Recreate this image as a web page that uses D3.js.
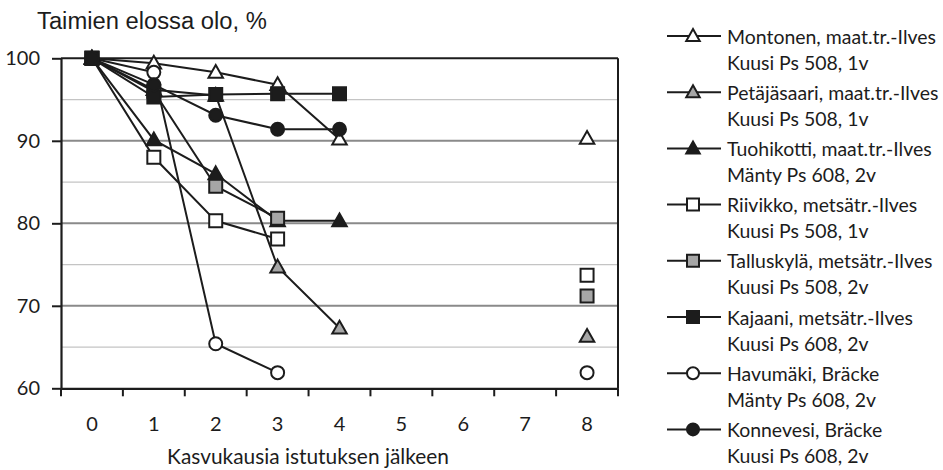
<!DOCTYPE html>
<html><head><meta charset="utf-8">
<script src="https://cdn.jsdelivr.net/npm/d3@7"></script>
<style>body{margin:0;background:#fff}</style>
</head><body><svg id="c" width="943" height="470"></svg>
<script>
// ---------- data ----------
const categories = ["0","1","2","3","4","5","6","7","8"];
const seriesNames = [
  "Montonen, maat.tr.-Ilves",
  "Petäjäsaari, maat.tr.-Ilves",
  "Tuohikotti, maat.tr.-Ilves",
  "Riivikko, metsätr.-Ilves",
  "Talluskylä, metsätr.-Ilves",
  "Kajaani, metsätr.-Ilves",
  "Havumäki, Bräcke",
  "Konnevesi, Bräcke"
];
const seriesSubtitles = [
  "Kuusi Ps 508, 1v",
  "Kuusi Ps 508, 1v",
  "Mänty Ps 608, 2v",
  "Kuusi Ps 508, 1v",
  "Kuusi Ps 508, 2v",
  "Kuusi Ps 608, 2v",
  "Mänty Ps 608, 2v",
  "Kuusi Ps 608, 2v"
];
const montonen    = [100, 99.4, 98.3, 96.8, 90.2, null, null, null, 90.3];
const petajasaari = [100, 96.2, 95.5, 74.7, 67.3, null, null, null, 66.3];
const tuohikotti  = [100, 90.1, 86.0, 80.3, 80.3, null, null, null, null];
const riivikko    = [100, 88.0, 80.3, 78.1, null, null, null, null, 73.7];
const talluskyla  = [100, 96.0, 84.5, 80.6, null, null, null, null, 71.2];
const kajaani     = [100, 95.3, 95.6, 95.7, 95.7, null, null, null, null];
const havumaki    = [100, 98.3, 65.4, 61.9, null, null, null, null, 61.9];
const konnevesi   = [100, 96.8, 93.1, 91.4, 91.4, null, null, null, null];
const seriesValues = [montonen, petajasaari, tuohikotti, riivikko, talluskyla, kajaani, havumaki, konnevesi];
const yTicks = [60, 70, 80, 90, 100];
const yMinorTicks = [65, 75, 85, 95];
const yTitle = "Taimien elossa olo, %";
const xTitle = "Kasvukausia istutuksen jälkeen";

// ---------- styles ----------
const INK = "#1c1c1c";
const seriesShapes = ["tri","tri","tri","sq","sq","sq","circ","circ"];
const seriesFills  = ["#fff","#a6a6a6",INK,"#fff","#a6a6a6",INK,"#fff",INK];

const svg = d3.select("#c");
const pLeft = 61, pRight = 618, pTop = 58.3, pBottom = 388.3;
const x = d3.scaleBand().domain(categories).range([pLeft, pRight]).padding(0);
const y = d3.scaleLinear().domain([60, 100]).range([pBottom, pTop]);

// font size that makes a text reach a target width
function fitSize(text, family, target) {
  const t = svg.append("text").attr("font-family", family).attr("font-size", 20).text(text);
  const w = t.node().getComputedTextLength();
  t.remove();
  return 20 * target / w;
}

// custom symbols
const triSym = { draw(ctx, size) { const w = size, h = size * 0.88;
  ctx.moveTo(0, -h * 0.58); ctx.lineTo(w / 2, h * 0.42); ctx.lineTo(-w / 2, h * 0.42); ctx.closePath(); } };
const sqSym = { draw(ctx, size) { const s = size / 2; ctx.rect(-s, -s, size, size); } };
const circSym = { draw(ctx, size) { const r = size / 2; ctx.moveTo(r, 0); ctx.arc(0, 0, r, 0, 2 * Math.PI); } };
const symMap = { tri: triSym, sq: sqSym, circ: circSym };
const markerSize = { tri: 14.5, sq: 13, circ: 13 };

// gridlines
svg.append("g").selectAll("line").data(yMinorTicks).join("line")
  .attr("x1", pLeft).attr("x2", pRight).attr("y1", d => y(d)).attr("y2", d => y(d))
  .attr("stroke", "#c4c4c4").attr("stroke-width", 1.2);
svg.append("g").selectAll("line").data(yTicks.filter(d => d > 60 && d < 100)).join("line")
  .attr("x1", pLeft).attr("x2", pRight).attr("y1", d => y(d)).attr("y2", d => y(d))
  .attr("stroke", "#8a8a8a").attr("stroke-width", 2);
// top & right border
svg.append("line").attr("x1", pLeft).attr("x2", pRight).attr("y1", y(100)).attr("y2", y(100))
  .attr("stroke", INK).attr("stroke-width", 2);
svg.append("line").attr("x1", pRight).attr("x2", pRight).attr("y1", y(100)).attr("y2", y(60))
  .attr("stroke", INK).attr("stroke-width", 2);

// y axis
const yAxis = svg.append("g").attr("transform", `translate(${pLeft},0)`)
  .call(d3.axisLeft(y).tickValues(yTicks).tickSize(9).tickPadding(12).tickSizeOuter(0));
yAxis.select(".domain").attr("stroke", INK).attr("stroke-width", 2.2);
yAxis.selectAll(".tick line").attr("stroke", INK).attr("stroke-width", 2);
yAxis.selectAll("text").attr("font-family", "Lato").attr("font-size", 20).attr("fill", INK);

// x axis
const xAxis = svg.append("g").attr("transform", `translate(0,${pBottom})`)
  .call(d3.axisBottom(x).tickSize(0).tickPadding(29).tickSizeOuter(0));
xAxis.select(".domain").attr("stroke", INK).attr("stroke-width", 2.2);
xAxis.selectAll("text").attr("font-family", "Lato").attr("font-size", 20).attr("fill", INK);
const boundaries = categories.map(c => x(c)).concat([x(categories[categories.length - 1]) + x.bandwidth()]);
xAxis.append("g").selectAll("line").data(boundaries).join("line")
  .attr("x1", d => d).attr("x2", d => d).attr("y1", 0).attr("y2", 8)
  .attr("stroke", INK).attr("stroke-width", 2);

// titles
svg.append("text").attr("x", 37).attr("y", 29).text(yTitle)
  .attr("font-family", "Liberation Sans").attr("font-size", Math.min(24, fitSize(yTitle, "Liberation Sans", 230)))
  .attr("fill", INK);
svg.append("text").attr("x", 308).attr("y", 464).attr("text-anchor", "middle").text(xTitle)
  .attr("font-family", "Lato").attr("font-size", Math.min(21, fitSize(xTitle, "Lato", 282)))
  .attr("fill", INK);

// lines
const line = d3.line().defined(d => d.v != null)
  .x(d => x(d.c) + x.bandwidth() / 2).y(d => y(d.v));
seriesValues.forEach((vals, i) => {
  const pts = vals.map((v, j) => ({ c: categories[j], v }));
  svg.append("path").datum(pts).attr("d", line).attr("fill", "none")
    .attr("stroke", INK).attr("stroke-width", 2);
});
// markers
seriesValues.forEach((vals, i) => {
  const pts = vals.map((v, j) => ({ c: categories[j], v })).filter(d => d.v != null);
  const sh = seriesShapes[i];
  svg.append("g").selectAll("path").data(pts).join("path")
    .attr("d", d3.symbol().type(symMap[sh]).size(markerSize[sh]))
    .attr("transform", d => `translate(${x(d.c) + x.bandwidth() / 2},${y(d.v)})`)
    .attr("fill", seriesFills[i]).attr("stroke", INK).attr("stroke-width", 2);
});

// legend
const legendFont = Math.min(20, fitSize(seriesNames[0], "Lato", 209));
const lg = svg.append("g");
seriesNames.forEach((name, i) => {
  const base = 43.5 + i * 56.2;
  const cy = base - 7.5;
  lg.append("line").attr("x1", 667).attr("x2", 721).attr("y1", cy).attr("y2", cy)
    .attr("stroke", INK).attr("stroke-width", 2);
  const sh = seriesShapes[i];
  lg.append("path").attr("d", d3.symbol().type(symMap[sh]).size(sh === "tri" ? 13.5 : 12)())
    .attr("transform", `translate(693,${cy})`)
    .attr("fill", seriesFills[i]).attr("stroke", INK).attr("stroke-width", 2);
  lg.append("text").attr("x", 727).attr("y", base).text(name)
    .attr("font-family", "Lato").attr("font-size", legendFont).attr("fill", INK);
  lg.append("text").attr("x", 727).attr("y", base + 26).text(seriesSubtitles[i])
    .attr("font-family", "Lato").attr("font-size", legendFont).attr("fill", INK);
});
</script></body></html>
